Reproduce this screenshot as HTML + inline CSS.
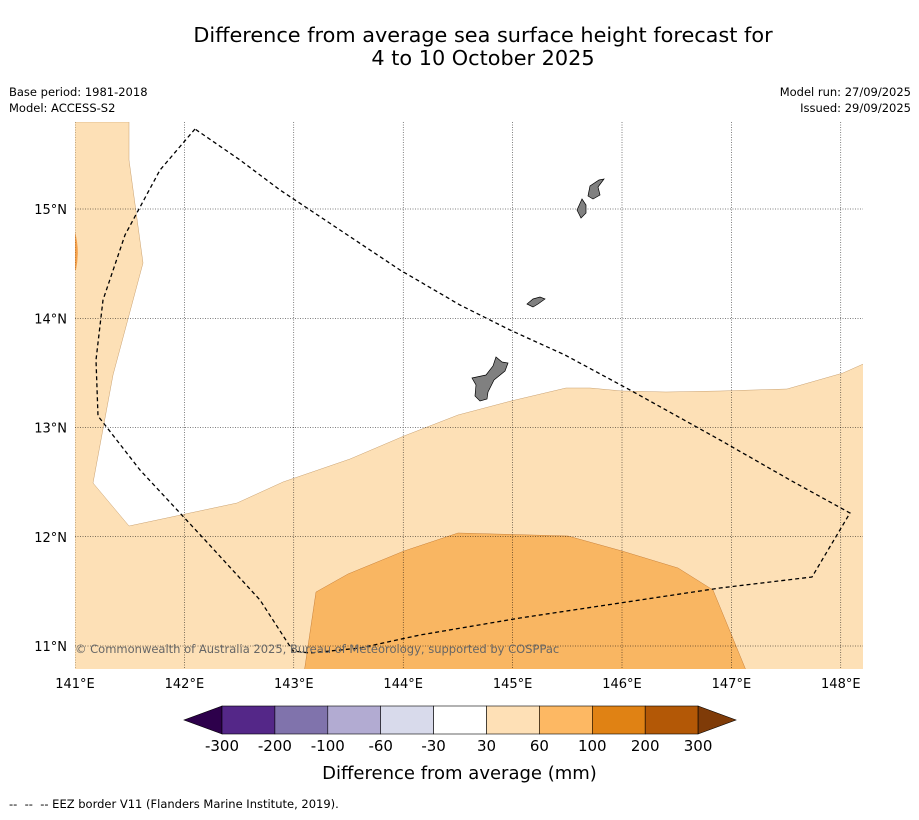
<!DOCTYPE html>
<html><head><meta charset="utf-8">
<style>
body{margin:0;background:#fff;font-family:"DejaVu Sans","Liberation Sans",sans-serif;}
svg text{font-family:"DejaVu Sans","Liberation Sans",sans-serif;}
</style></head>
<body>
<svg id="chart" width="919" height="816" viewBox="0 0 919 816" xmlns="http://www.w3.org/2000/svg">
<text x="483" y="42" font-size="20.8" text-anchor="middle">Difference from average sea surface height forecast for</text>
<text x="483" y="65" font-size="20.8" text-anchor="middle">4 to 10 October 2025</text>
<text x="9" y="96" font-size="11.5">Base period: 1981-2018</text>
<text x="9" y="112" font-size="11.5">Model: ACCESS-S2</text>
<text x="911" y="96" font-size="11.5" text-anchor="end">Model run: 27/09/2025</text>
<text x="911" y="112" font-size="11.5" text-anchor="end">Issued: 29/09/2025</text>
<defs><clipPath id="mapclip"><rect x="75" y="122" width="788" height="547"/></clipPath></defs>
<g id="map" clip-path="url(#mapclip)"></g>
<g id="axes"></g>
<g id="cbar"></g>
<text x="459.5" y="779" font-size="18" text-anchor="middle">Difference from average (mm)</text>
<text x="9" y="808" font-size="11.5" xml:space="preserve" style="white-space:pre">--  --  -- EEZ border V11 (Flanders Marine Institute, 2019).</text>
</svg>
<script>
const lonTicks=[141,142,143,144,145,146,147,148];
const latTicks=[11,12,13,14,15];
const cbLabels=["-300","-200","-100","-60","-30","30","60","100","200","300"];
const cbColors=["#542788","#8073ac","#b2abd2","#d8daeb","#ffffff","#fee0b6","#fdb863","#e08214","#b35806"];
const lightPx=[[75,122],[129,122],[129,160],[143,263],[113,375],[93,483],[129,526],[237,503],[283,482],[350,459],[404,436],[458,415],[511,401],[566,388],[590,388],[622,391],[666,392],[720,391],[787,389],[843,373],[870,361],[870,680],[70,680],[70,122]];
const darkPx=[[303,680],[316,592],[348,574],[404,551],[458,533],[568,536],[622,551],[678,568],[713,590],[750,680]];
const eezPx=[[195,129],[160,170],[125,235],[103,300],[96,360],[98,416],[140,470],[205,540],[260,600],[293,651],[310,653],[360,648],[420,635],[520,618],[620,603],[720,588],[812,577],[850,513],[790,480],[720,440],[630,390],[565,355],[510,330],[460,305],[400,270],[340,230],[280,190],[240,160],[195,129]];
const guamPx=[[472,378],[486,375],[493,366],[496,357],[502,362],[508,363],[505,371],[494,380],[488,392],[487,399],[480,401],[475,396],[476,385]];
const rotaPx=[[527,304],[533,299],[540,297],[545,299],[538,304],[533,307]];
const saipanPx=[[588,196],[590,186],[599,180],[604,179],[598,187],[600,195],[593,199]];
const tinianPx=[[577,210],[582,199],[586,205],[586,213],[581,218]];
const toLL=p=>[141+(p[0]-75)/109.4,15-(p[1]-209)/109.25];
const light=lightPx.map(toLL),dark=darkPx.map(toLL),eez=eezPx.map(toLL);
const islands=[guamPx,rotaPx,saipanPx,tinianPx].map(a=>a.map(toLL));
const xS=lon=>75+(lon-141)*109.4, yS=lat=>209+(15-lat)*109.25;
const NS="http://www.w3.org/2000/svg";
function mk(t,a,parent){const e=document.createElementNS(NS,t);for(const k in a)e.setAttribute(k,a[k]);parent.appendChild(e);return e;}
const pts=a=>a.map(p=>xS(p[0]).toFixed(1)+","+yS(p[1]).toFixed(1)).join(" ");
const map=document.getElementById('map'),axes=document.getElementById('axes'),cb=document.getElementById('cbar');
let e=mk('polygon',{points:pts(light),fill:'#fde0b6',stroke:'#c8a070','stroke-width':0.5},map);

e=mk('polygon',{points:pts(dark),fill:'#f9b662',stroke:'#c8803a','stroke-width':0.5},map);

e=mk('path',{d:'M75,232 Q80,250 76,270 L75,270 Z',fill:'#f5a04a'},map);

lonTicks.forEach(l=>{e=mk('line',{x1:xS(l),x2:xS(l),y1:122,y2:669,stroke:'#000','stroke-width':0.5,'stroke-dasharray':'1,1.5'},map);

e=mk('text',{x:xS(l),y:688,'font-size':13,'text-anchor':'middle'},axes);e.textContent=l+"°E";
});
latTicks.forEach(l=>{e=mk('line',{x1:75,x2:863,y1:yS(l),y2:yS(l),stroke:'#000','stroke-width':0.5,'stroke-dasharray':'1,1.5'},map);

e=mk('text',{x:67,y:yS(l)+5,'font-size':13,'text-anchor':'end'},axes);e.textContent=l+"°N";
});
islands.forEach(a=>{e=mk('polygon',{points:pts(a),fill:'#808080',stroke:'#000','stroke-width':0.7},map);
});
e=mk('polyline',{points:pts(eez),fill:'none',stroke:'#000','stroke-width':1.3,'stroke-dasharray':'4,3'},map);

e=mk('text',{x:75,y:653,'font-size':11.5,fill:'#666'},map);e.textContent="© Commonwealth of Australia 2025, Bureau of Meteorology, supported by COSPPac";

const x0=222,w=52.9,cy=706,ch=28;
e=mk('polygon',{points:`${x0},${cy} 184,${cy+ch/2} ${x0},${cy+ch}`,fill:'#2d004b',stroke:'#000','stroke-width':0.6},cb);

cbColors.forEach((c,i)=>{e=mk('rect',{x:x0+i*w,y:cy,width:w,height:ch,fill:c,stroke:'#000','stroke-width':0.6},cb);
});
const xe=x0+cbColors.length*w;
e=mk('polygon',{points:`${xe},${cy} 736,${cy+ch/2} ${xe},${cy+ch}`,fill:'#7f3b08',stroke:'#000','stroke-width':0.6},cb);

cbLabels.forEach((t,i)=>{e=mk('text',{x:x0+i*w,y:751,'font-size':15,'text-anchor':'middle'},cb);e.textContent=t;
});
</script>
</body></html>
